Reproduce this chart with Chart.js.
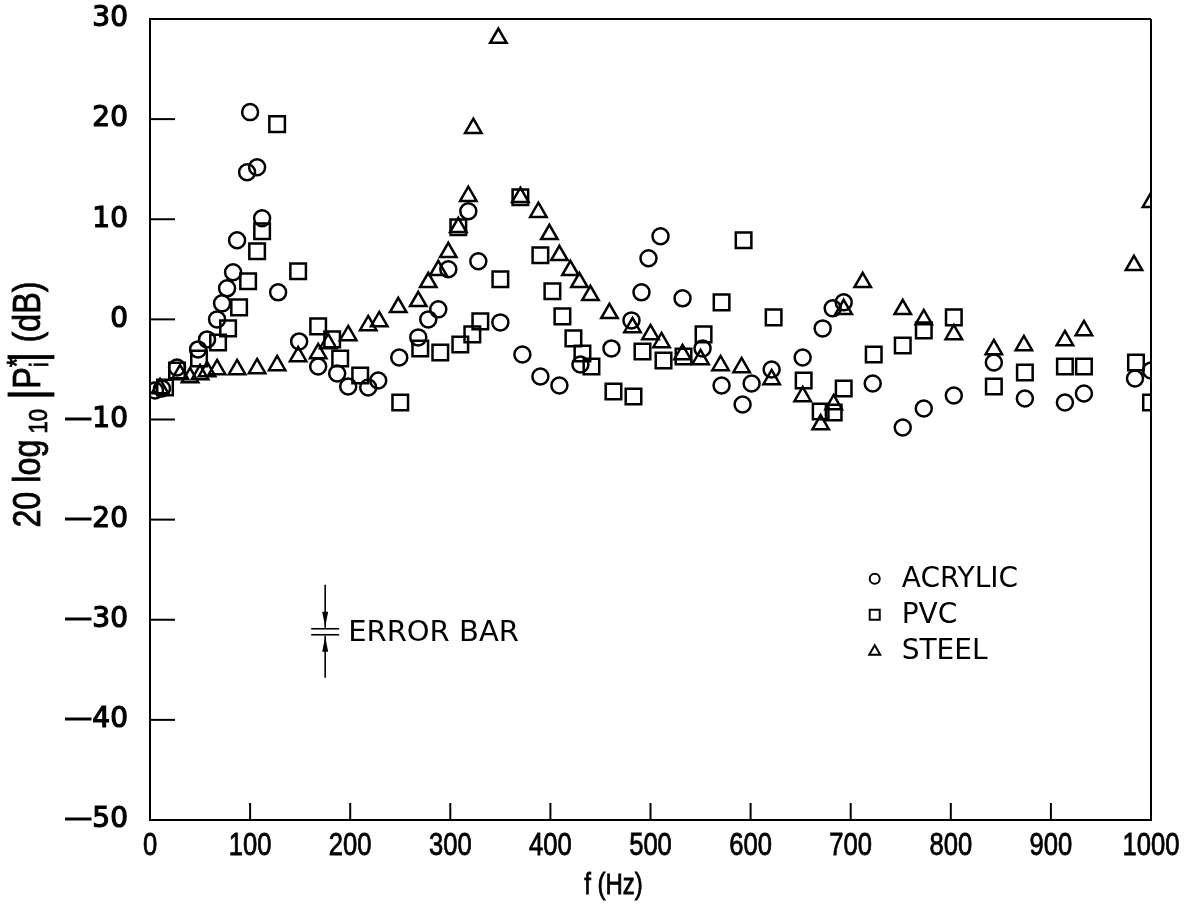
<!doctype html>
<html>
<head>
<meta charset="utf-8">
<title>Pressure response</title>
<script src="https://cdn.jsdelivr.net/npm/chart.js"></script>
<style>
  body { margin: 0; background: #fff; }
  #wrap { width: 1204px; height: 905px; }
</style>
</head>
<body>
<div id="wrap"><canvas id="myChart"></canvas></div>
<script>
    // values: frequency (Hz) and 20 log10 |P*i| (dB)
    var acrylicF = [5, 12, 27, 48, 57, 67, 72, 77, 83, 87, 97, 100, 107, 112, 128, 149, 168, 187, 198, 218, 228, 249, 268, 278, 288, 298, 318, 328, 350, 372, 390, 409, 430, 461, 481, 491, 498, 510, 532, 552, 571, 592, 601, 621, 652, 672, 682, 693, 722, 752, 773, 803, 843, 874, 914, 933, 984, 1000];
    var acrylicDb = [-7.1, -6.9, -4.8, -3.0, -2.0, 0, 1.6, 3.1, 4.7, 7.9, 14.7, 20.7, 15.2, 10.1, 2.7, -2.2, -4.7, -5.4, -6.7, -6.8, -6.1, -3.8, -1.8, 0, 1.0, 5.0, 10.8, 5.8, -0.3, -3.5, -5.7, -6.6, -4.5, -2.9, -0.1, 2.7, 6.1, 8.3, 2.1, -2.9, -6.6, -8.5, -6.4, -5.0, -3.8, -0.9, 1.1, 1.7, -6.4, -10.8, -8.9, -7.6, -4.3, -7.9, -8.3, -7.4, -5.9, -5.1];

    var pvcF = [15, 27, 49, 68, 78, 89, 98, 107, 112, 127, 148, 168, 182, 190, 210, 250, 270, 290, 308, 310, 322, 330, 350, 370, 390, 402, 412, 423, 432, 441, 463, 483, 492, 513, 533, 553, 571, 593, 623, 653, 670, 683, 693, 723, 752, 773, 803, 843, 874, 914, 933, 985, 1000];
    var pvcDb = [-6.8, -5.1, -3.9, -2.3, -0.9, 1.2, 3.8, 6.8, 8.8, 19.5, 4.8, -0.7, -2.0, -3.9, -5.6, -8.3, -2.9, -3.3, 9.2, -2.5, -1.5, -0.2, 4.0, 12.2, 6.4, 2.8, 0.3, -1.9, -3.4, -4.7, -7.2, -7.7, -3.2, -4.1, -3.7, -1.5, 1.7, 7.9, 0.2, -6.1, -9.2, -9.3, -6.9, -3.5, -2.6, -1.1, 0.2, -6.7, -5.3, -4.7, -4.7, -4.3, -8.3];

    var steelF = [10, 30, 40, 50, 57, 67, 87, 107, 127, 148, 168, 178, 198, 218, 229, 248, 268, 278, 288, 298, 308, 318, 323, 348, 370, 388, 399, 409, 420, 429, 440, 459, 482, 500, 511, 532, 550, 570, 591, 621, 652, 670, 683, 693, 712, 752, 773, 803, 843, 873, 914, 933, 983, 1000];
    var steelDb = [-6.9, -5.5, -5.8, -5.5, -5.2, -5.0, -5.0, -4.9, -4.6, -3.7, -3.4, -2.4, -1.6, -0.6, -0.2, 1.2, 1.8, 3.7, 4.9, 6.7, 9.2, 12.3, 19.1, 28.1, 12.2, 10.7, 8.5, 6.4, 4.9, 3.7, 2.4, 0.6, -0.8, -1.5, -2.3, -3.5, -4.0, -4.6, -4.8, -6.0, -7.7, -10.5, -8.5, 1.0, 3.7, 1.0, 0, -1.5, -3.0, -2.6, -2.1, -1.1, 5.4, 11.7];

    var xTicks = [0, 100, 200, 300, 400, 500, 600, 700, 800, 900, 1000];
    var yTicks = [30, 20, 10, 0, -10, -20, -30, -40, -50];

    var legendNames = ['ACRYLIC', 'PVC', 'STEEL'];
    var legendStyles = ['circle', 'rect', 'triangle'];

    var sans = "'Liberation Sans', sans-serif";
    var wide = "'DejaVu Sans', sans-serif";

    function toPoints(fs, vs) {
        var out = [];
        for (var i = 0; i < fs.length; i++) {
            out.push({x: fs[i], y: vs[i]});
        }
        return out;
    }

    function line(ctx, x1, y1, x2, y2) {
        ctx.beginPath();
        ctx.moveTo(x1, y1);
        ctx.lineTo(x2, y2);
        ctx.stroke();
    }

    function marker(ctx, style, x, y, s) {
        ctx.beginPath();
        if (style === 'circle') {
            ctx.arc(x, y, s, 0, Math.PI * 2);
        } else if (style === 'rect') {
            ctx.rect(x - s, y - s, s * 2, s * 2);
        } else {
            ctx.moveTo(x, y - s * 1.1);
            ctx.lineTo(x + s * 1.1, y + s * 0.8);
            ctx.lineTo(x - s * 1.1, y + s * 0.8);
            ctx.closePath();
        }
        ctx.stroke();
    }

    // condensed-looking text: squeeze the glyphs sideways
    function narrowText(ctx, txt, x, y, size, align) {
        ctx.save();
        ctx.font = size + 'px ' + sans;
        ctx.translate(x, y);
        ctx.scale(0.8, 1);
        ctx.textAlign = align || 'center';
        ctx.textBaseline = 'middle';
        ctx.lineWidth = 0.8;
        ctx.strokeText(txt, 0, 0);
        ctx.fillText(txt, 0, 0);
        ctx.restore();
    }

    // frame, inward ticks, x labels, error bar note, legend, y title
    var extras = {
        id: 'extras',
        afterDraw: function (chart) {
            var ctx = chart.ctx;
            var xs = chart.scales.x, ys = chart.scales.y;
            ctx.save();
            ctx.strokeStyle = '#000';
            ctx.fillStyle = '#000';
            ctx.lineWidth = 2;

            line(ctx, xs.left, ys.top, xs.right, ys.top);
            line(ctx, xs.right, ys.top, xs.right, ys.bottom);

            yTicks.forEach(function (v) {
                var py = ys.getPixelForValue(v);
                line(ctx, xs.left, py, xs.left + 25, py);
            });
            xTicks.forEach(function (v) {
                var px = xs.getPixelForValue(v);
                line(ctx, px, ys.bottom, px, ys.bottom - 17);
                narrowText(ctx, String(v), px, ys.bottom + 26, 32);
            });
            narrowText(ctx, 'f (Hz)', xs.getPixelForValue(463), ys.bottom + 66, 30);

            // error bar sketch
            var ex = xs.getPixelForValue(175);
            var ey = ys.getPixelForValue(-31.2);
            ctx.lineWidth = 1.6;
            line(ctx, ex, ey - 47, ex, ey - 4);
            line(ctx, ex, ey + 4, ex, ey + 46);
            line(ctx, ex - 14, ey - 3, ex + 14, ey - 3);
            line(ctx, ex - 14, ey + 3, ex + 14, ey + 3);
            ctx.beginPath();
            ctx.moveTo(ex - 3, ey - 20); ctx.lineTo(ex + 3, ey - 20); ctx.lineTo(ex, ey - 5); ctx.closePath();
            ctx.fill();
            ctx.beginPath();
            ctx.moveTo(ex - 3, ey + 20); ctx.lineTo(ex + 3, ey + 20); ctx.lineTo(ex, ey + 5); ctx.closePath();
            ctx.fill();
            ctx.font = '29px ' + wide;
            ctx.textAlign = 'left';
            ctx.textBaseline = 'middle';
            ctx.fillText('ERROR BAR', ex + 23, ey + 2);

            // legend
            var lx = xs.getPixelForValue(724);
            var ly0 = ys.getPixelForValue(-25.9);
            ctx.lineWidth = 2;
            ctx.font = '28px ' + wide;
            for (var i = 0; i < legendNames.length; i++) {
                var ly = ly0 + i * 36;
                marker(ctx, legendStyles[i], lx, ly, 5);
                ctx.fillText(legendNames[i], lx + 27, ly + 1);
            }

            // y title: 20 log10 |P*i| (dB)
            ctx.translate(30, (ys.top + ys.bottom) / 2 - 15);
            ctx.rotate(-Math.PI / 2);
            ctx.scale(0.85, 1);
            ctx.lineWidth = 0.8;
            var parts = [
                {t: '20 log', f: 38, dy: 0},
                {t: ' 10', f: 26, dy: 10},
                {t: ' ', f: 38, dy: 0},
                {t: '|', f: 50, dy: 0},
                {t: 'P', f: 38, dy: 0},
                {t: '*', f: 28, dy: -12, hold: true},
                {t: 'i', f: 26, dy: 11},
                {t: '|', f: 50, dy: 0},
                {t: ' (dB)', f: 38, dy: 0}
            ];
            var total = 0;
            parts.forEach(function (p) {
                ctx.font = p.f + 'px ' + sans;
                p.w = ctx.measureText(p.t).width;
                if (!p.hold) total += p.w;
            });
            var cx = -total / 2;
            ctx.textAlign = 'left';
            ctx.textBaseline = 'middle';
            parts.forEach(function (p) {
                ctx.font = p.f + 'px ' + sans;
                ctx.strokeText(p.t, cx, p.dy);
                ctx.fillText(p.t, cx, p.dy);
                if (!p.hold) cx += p.w;
            });
            ctx.restore();
        }
    };

    var ds = function (label, data, style, r) {
        return {
            label: label,
            data: data,
            pointStyle: style,
            pointRadius: r,
            pointHoverRadius: r,
            pointBorderWidth: 2.5,
            borderColor: '#000',
            backgroundColor: 'rgba(0,0,0,0)',
            showLine: false
        };
    };

    new Chart(document.getElementById('myChart'), {
        type: 'scatter',
        data: {
            datasets: [
                ds('ACRYLIC', toPoints(acrylicF, acrylicDb), 'circle', 8),
                ds('PVC', toPoints(pvcF, pvcDb), 'rect', 11),
                ds('STEEL', toPoints(steelF, steelDb), 'triangle', 9.5)
            ]
        },
        options: {
            responsive: true,
            maintainAspectRatio: false,
            animation: false,
            devicePixelRatio: 1,
            layout: {padding: {top: 19, right: 53, left: 0, bottom: 0}},
            plugins: {
                legend: {display: false},
                tooltip: {enabled: false}
            },
            scales: {
                x: {
                    type: 'linear',
                    min: 0,
                    max: 1000,
                    afterFit: function (s) { s.height = 85; s.paddingLeft = 0; s.paddingRight = 0; },
                    afterBuildTicks: function (s) { s.ticks = xTicks.map(function (v) { return {value: v}; }); },
                    grid: {display: false, drawTicks: false},
                    border: {display: true, color: '#000', width: 2},
                    ticks: {display: false}
                },
                y: {
                    min: -50,
                    max: 30,
                    afterFit: function (s) { s.width = 150; s.paddingTop = 0; s.paddingBottom = 0; },
                    afterBuildTicks: function (s) { s.ticks = yTicks.map(function (v) { return {value: v}; }); },
                    grid: {display: false, drawTicks: false},
                    border: {display: true, color: '#000', width: 2},
                    ticks: {
                        color: '#000',
                        font: {family: wide, size: 28},
                        textStrokeColor: '#000',
                        textStrokeWidth: 1.2,
                        padding: 22,
                        callback: function (v) { return v < 0 ? '\u2014' + Math.abs(v) : String(v); }
                    }
                }
            }
        },
        plugins: [extras]
    });
</script>
</body>
</html>
